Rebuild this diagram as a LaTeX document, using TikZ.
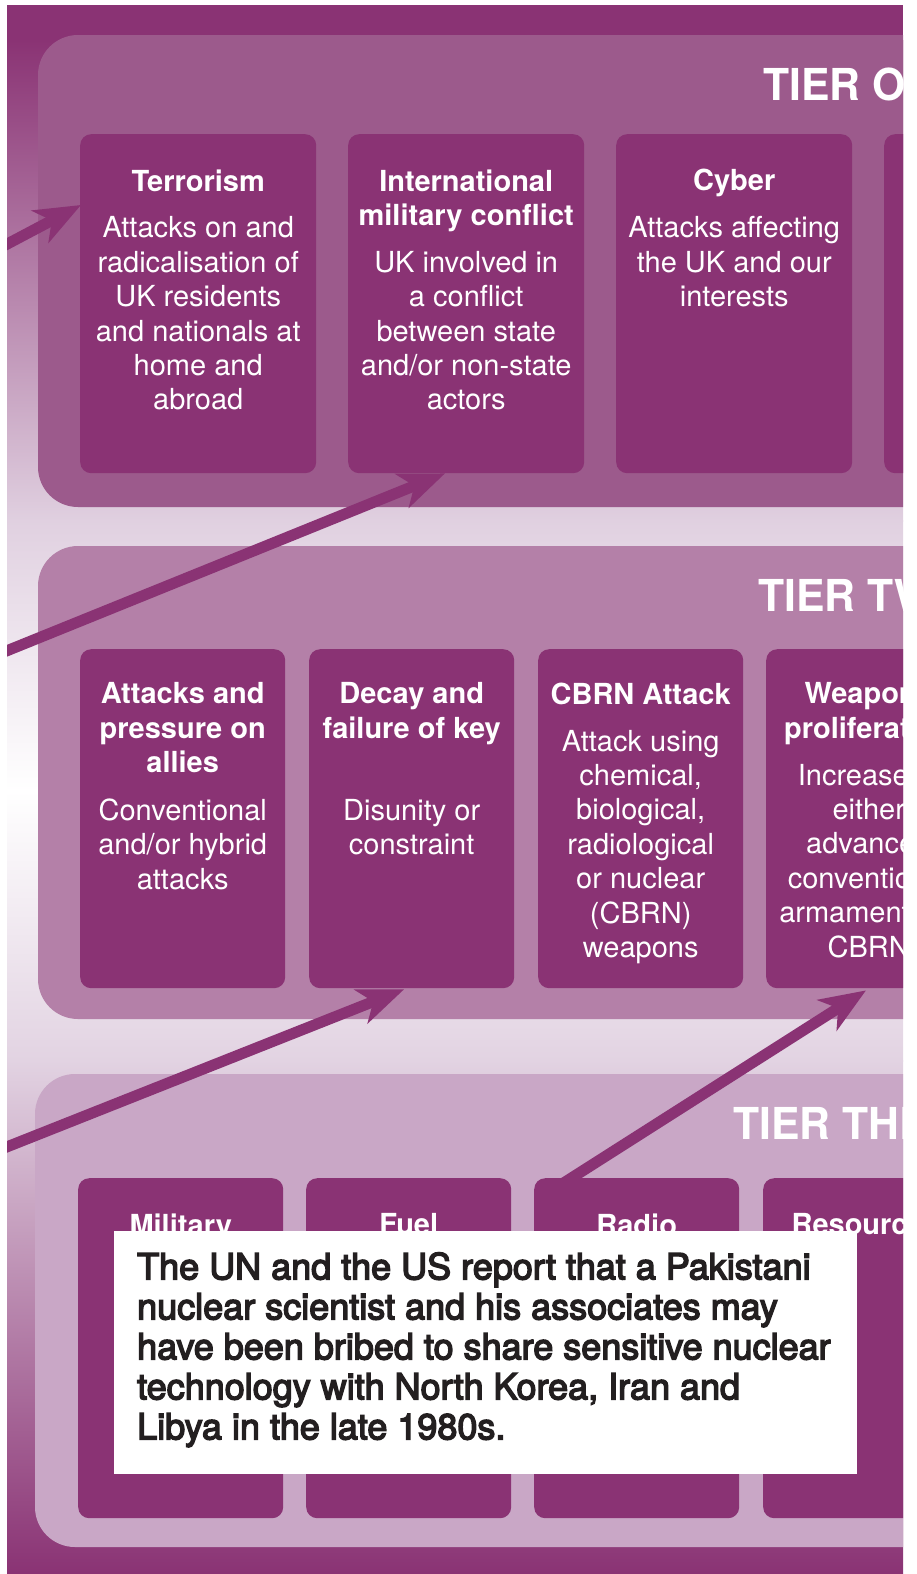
\documentclass[tikz,border=0pt]{standalone}
\usepackage{fontspec}
\setmainfont{TeX Gyre Heros}
\newfontfamily\notefont{TeX Gyre Heros}[FakeBold=4]
\usepackage{graphicx}
\usetikzlibrary{arrows.meta,calc}
\definecolor{plum}{HTML}{8A3374}
\definecolor{tierA}{HTML}{9C5A8C}
\definecolor{tierB}{HTML}{B480A8}
\definecolor{tierC}{HTML}{C9A7C6}
\definecolor{ink}{HTML}{231F20}
\definecolor{haze}{HTML}{E0D0E0}
\definecolor{hazeB}{HTML}{E2D3E2}
\newcommand{\boxfont}{\fontsize{29}{34.4}\selectfont}
\newcommand{\tiername}[1]{\scalebox{0.97}[1]{#1}}
\begin{document}
\begin{tikzpicture}[x=1pt,y=-1pt,
  threat/.style={fill=plum, draw=none, rounded corners=11pt, inner sep=0pt, anchor=north west},
  wide/.style={minimum width=236pt, minimum height=339pt},
  narrow/.style={minimum width=205pt, minimum height=339pt},
  boxtext/.style={text=white, align=center, inner sep=0pt, anchor=north, font=\boxfont},
  tiertitle/.style={text=white, inner sep=0pt, anchor=base west, font=\fontsize{44}{44}\selectfont\bfseries},
  link/.style={draw=plum, line width=11pt, -{Stealth[length=46pt,width=36pt,inset=13pt]}}
]
\useasboundingbox (0,0) rectangle (916,1574);
\begin{scope}
\clip (7,5) rectangle (903,1573);
% background
\fill[plum] (7,5) rectangle (903,41);
\shade[top color=plum, bottom color=haze] (7,40) rectangle (903,521);
\shade[top color=haze, bottom color=white] (7,520) rectangle (903,791);
\shade[top color=white, bottom color=hazeB] (7,790) rectangle (903,1061);
\shade[top color=hazeB, bottom color=plum] (7,1060) rectangle (903,1573);
% tier panels
\fill[tierA, rounded corners=40pt] (38,35) rectangle (980,507);
\fill[tierB, rounded corners=40pt] (38,546) rectangle (980,1019);
\fill[tierC, rounded corners=40pt] (35,1074) rectangle (980,1547);
% tier titles
\node[tiertitle] (t1) at (763,100) {\tiername{TIER ONE}};
\node[tiertitle] (t2) at (758,611) {\tiername{TIER TWO}};
\node[tiertitle] (t3) at (733,1139) {\tiername{TIER THREE}};
% tier one boxes
\node[threat, wide] (terr) at (80,134) {};
\node[threat, wide] (intl) at (348,134) {};
\node[threat, wide] (cyber) at (616,134) {};
\node[threat, wide] (tfour) at (884,134) {};
% tier two boxes
\node[threat, narrow] (allies) at (80,649) {};
\node[threat, narrow] (decay) at (309,649) {};
\node[threat, narrow] (cbrn) at (538,649) {};
\node[threat, narrow] (weap) at (766,649) {};
% tier three boxes
\node[threat, minimum width=205pt, minimum height=340pt] (milit) at (78,1178) {};
\node[threat, minimum width=205pt, minimum height=340pt] (fuel) at (306,1178) {};
\node[threat, minimum width=205pt, minimum height=340pt] (radio) at (534,1178) {};
\node[threat, minimum width=205pt, minimum height=340pt] (resrc) at (763,1178) {};
% arrows
\coordinate (s1) at (-6,251);
\coordinate (s2) at (-6,656);
\coordinate (s3) at (-6,1152);
\draw[link] (s1) -- ($(terr.north west)+(1,71)$);
\draw[link] (s2) -- ($(intl.south west)+(97,0)$);
\draw[link] (s3) -- ($(decay.south west)+(95,1)$);
\draw[link] ($(radio.north west)+(28,6)$) -- ($(weap.south west)+(100,2)$);
% tier one texts
\node[boxtext] (terrT) at ($(terr.north)+(0,35.2)$) {\textbf{Terrorism}\\[12.4pt]Attacks on and\\radicalisation of\\UK residents\\and nationals at\\home and\\abroad};
\node[boxtext] (intlT) at ($(intl.north)+(0,35.2)$) {\textbf{International}\\\textbf{military conflict}\\[12.4pt]UK involved in\\a conflict\\between state\\and/or non-state\\actors};
\node[boxtext] (cyberT) at ($(cyber.north)+(0,35.2)$) {\textbf{Cyber}\\[12.4pt]Attacks affecting\\the UK and our\\interests};
% tier two texts
\node[boxtext] (alliesT) at ($(allies.north)+(0,33.4)$) {\textbf{Attacks and}\\\textbf{pressure on}\\\textbf{allies}\\[13.5pt]Conventional\\and/or hybrid\\attacks};
\node[boxtext] (decayT) at ($(decay.north)+(0,33.4)$) {\textbf{Decay and}\\\textbf{failure of key}\\\mbox{}\\[13.5pt]Disunity or\\constraint};
\node[boxtext] (cbrnT) at ($(cbrn.north)+(0,33.4)$) {\textbf{CBRN Attack}\\[12.6pt]Attack using\\chemical,\\biological,\\radiological\\or nuclear\\(CBRN)\\weapons};
\node[boxtext] (weapT) at ($(weap.north)+(0,33.4)$) {\textbf{Weapons}\\\textbf{proliferation}\\[12.6pt]Increase in\\either\\advanced\\conventional\\armaments or\\CBRN};
% tier three titles
\node[boxtext] (militT) at ($(milit.north)+(0,35.2)$) {\textbf{Military}};
\node[boxtext] (fuelT) at ($(fuel.north)+(0,35.2)$) {\textbf{Fuel}};
\node[boxtext] (radioT) at ($(radio.north)+(0,35.2)$) {\textbf{Radio}};
\node[boxtext] (resrcT) at ($(resrc.north)+(0,35.2)$) {\textbf{Resources}};
% note box
\node[fill=white, draw=none, inner sep=0pt, anchor=north west, minimum width=743pt, minimum height=243pt] (note) at (114,1231) {};
\node[anchor=north west, align=left, inner sep=0pt, text=ink, font=\notefont\fontsize{36}{40}\selectfont] (noteT) at ($(note.north west)+(23,21.2)$) {The UN and the US report that a Pakistani\\nuclear scientist and his associates may\\have been bribed to share sensitive nuclear\\technology with North Korea, Iran and\\Libya in the late 1980s.};
\end{scope}
\end{tikzpicture}
\end{document}
